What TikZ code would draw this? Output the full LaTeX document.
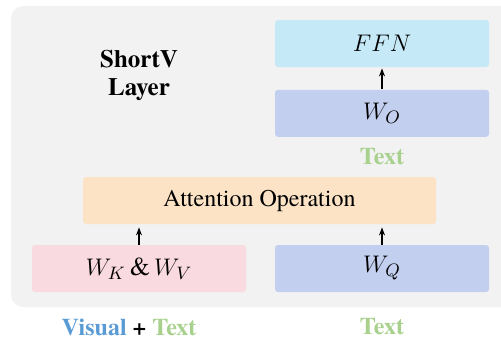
\documentclass[tikz,border=0pt]{standalone}
\usepackage{fontspec}
\setmainfont{texgyretermes}[Extension=.otf,UprightFont=*-regular,BoldFont=*-bold,ItalicFont=*-italic,BoldItalicFont=*-bolditalic]
\usepackage{tikz}
\usetikzlibrary{positioning,arrows.meta}
\definecolor{panelgray}{HTML}{F2F2F2}
\definecolor{ffncyan}{HTML}{C5E9F6}
\definecolor{projblue}{HTML}{C3CFEE}
\definecolor{attnpeach}{HTML}{FCE3C6}
\definecolor{kvpink}{HTML}{F9DAE0}
\definecolor{txtgreen}{HTML}{A9D18E}
\definecolor{visblue}{HTML}{5B9BD5}
\begin{document}
\begin{tikzpicture}[
    x=0.5pt,y=-0.5pt,
    box/.style={rectangle,rounded corners=1.5pt,inner sep=0pt,minimum width=107pt,minimum height=23.5pt,align=center,font=\fontsize{12}{14}\selectfont},
    mbox/.style={box,font=\fontsize{13}{15}\selectfont},
    arr/.style={-{Stealth[length=4pt,width=3pt]},semithick},
    lbl/.style={font=\fontsize{12}{14}\selectfont\bfseries},
    node distance=11pt and 14.5pt,
  ]
    \useasboundingbox (0,0) rectangle (501,344);
    \fill[panelgray,rounded corners=6pt] (11,6) rectangle (520,307);
    \node[mbox,fill=ffncyan]  (FFN) at (382,43.5) {$FFN$};
    \node[mbox,fill=projblue,below=of FFN] (WO) {$W_O$};
    \node[lbl,text=txtgreen] (T1) at (382,157) {Text};
    \node[box,fill=attnpeach,minimum width=176.5pt] (AT) at (259.5,200.5) {Attention Operation};
    \node[mbox,fill=kvpink]   (KV) at (139,268.5) {$W_K\,\&\,W_V$};
    \node[mbox,fill=projblue] (WQ) at (382,268.5) {$W_Q$};
    \node[lbl,align=center,font=\fontsize{12.5}{14}\selectfont\bfseries] (SV) at (139,75) {ShortV\\Layer};
    \node[lbl] (VT) at (129,327) {\textcolor{visblue}{Visual} + \textcolor{txtgreen}{Text}};
    \node[lbl,text=txtgreen] (T2) at (382,327) {Text};
    \draw[arr,shorten >=0.5pt] (WO) -- (FFN);
    \draw[arr,shorten >=1.5pt] (KV.north) -- (KV.north |- AT.south);
    \draw[arr,shorten >=1.5pt] (WQ.north) -- (WQ.north |- AT.south);
  \end{tikzpicture}
\end{document}
